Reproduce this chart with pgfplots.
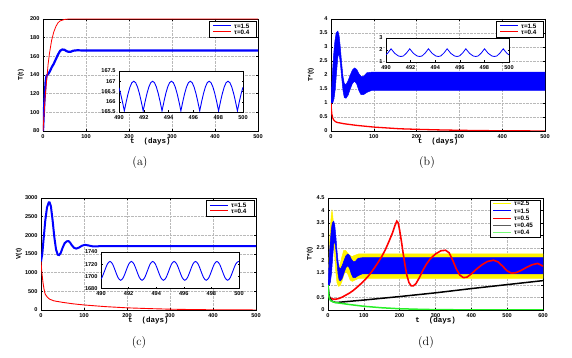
\documentclass[border=0pt]{standalone}
\usepackage{fontspec}
\usepackage{pgfplots}
\pgfplotsset{compat=1.18}
\newfontfamily\hsans{Liberation Sans}
\newfontfamily\cour{Liberation Mono}
\newcommand\tkf{\hsans\bfseries\fontsize{5.6}{6.5}\selectfont}
\newcommand\lgf{\hsans\bfseries\fontsize{6.3}{7}\selectfont}
\newcommand\ylf{\hsans\bfseries\fontsize{6.5}{7.5}\selectfont}
\newcommand\xlf{\cour\bfseries\fontsize{7.5}{8}\selectfont}
\definecolor{mgreen}{RGB}{40,240,40}
\definecolor{lgreen}{RGB}{120,250,120}
\definecolor{lbA}{RGB}{0,0,252}\definecolor{lrA}{RGB}{252,0,0}
\definecolor{lbB}{RGB}{0,0,251}\definecolor{lrB}{RGB}{251,0,0}
\definecolor{lbC}{RGB}{0,0,250}\definecolor{lrC}{RGB}{250,0,0}
\definecolor{lbD}{RGB}{0,0,249}\definecolor{lrD}{RGB}{249,0,0}
\definecolor{lyD}{RGB}{252,252,0}\definecolor{lkD}{RGB}{92,92,92}
% legend texts, placed relative to the upper right corner of the axis
\newcommand\lgtext[3]{\node[anchor=west, font=\lgf, inner sep=0pt] at ([xshift=#1, yshift=#2]axis description cs:1,1) {#3};}
\pgfplotsset{
 mainax/.style={
  scale only axis, width=215pt, height=112pt, anchor=south west,
  axis line style={line width=0.7pt},
  grid=major, grid style={densely dotted, gray!55, line width=0.4pt},
  tick align=inside, major tick length=2pt, tick style={black, line width=0.5pt},
  ticklabel style={font=\tkf},
  /pgf/number format/assume math mode=true,
  /pgf/number format/1000 sep={},
  scaled ticks=false, enlargelimits=false,
  xlabel style={font=\xlf, at={(axis description cs:0.5,0)}, anchor=center, yshift=-11pt},
  ylabel style={font=\ylf, at={(axis description cs:0,0.5)}, anchor=center, yshift=22pt},
 },
 lgseg/.style={line width=1pt, forget plot},
 lgframe/.style={draw=black, fill=white, line width=0.7pt, forget plot},
 inax/.style={
  scale only axis, anchor=south west, axis background/.style={fill=white},
  axis line style={line width=0.6pt},
  tick align=inside, major tick length=1.5pt, tick style={black, line width=0.4pt},
  ticklabel style={font=\tkf},
  /pgf/number format/assume math mode=true,
  /pgf/number format/1000 sep={},
  scaled ticks=false, enlargelimits=false,
  xmin=490, xmax=500, xtick={490,492,494,496,498,500},
 }
}
\begin{document}
\begin{tikzpicture}
\useasboundingbox (0,0) rectangle (572pt,358pt);
% ---------------- (a)
\begin{axis}[mainax, at={(43pt,227pt)}, xmin=0, xmax=500, ymin=80, ymax=200,
  xtick={0,100,...,500}, ytick={80,100,...,200}, xlabel={t~~(days)}, ylabel={T(t)}]
\addplot[blue, line width=2.2pt] coordinates {(0,80)(3,110)(6,132)(8,139)(12,141)(16,144)(20,148)(25,152)(30,157)(35,162)(40,166)(45,167.3)(50,167)(55,165.5)(60,164.8)(65,165)(70,166)(80,166.5)(90,166.3)(100,166.3)(500,166.3)};
\addplot[red, line width=0.8pt] coordinates {(0,80)(2,95)(4,110)(6,122)(8,132)(10,142)(12,152)(15,163)(20,177)(25,186)(30,192)(35,196)(40,198)(50,199.5)(60,200)(500,200)};
\addplot[lgframe] coordinates {(386.0,180.71)(495.35,180.71)(495.35,197.86)(386.0,197.86)(386.0,180.71)};
\addplot[lbA, lgseg] coordinates {(395.3,192.5)(437.2,192.5)};
\addplot[lrA, lgseg] coordinates {(395.3,186.07)(437.2,186.07)};
\lgtext{-24pt}{-7pt}{τ=1.5}
\lgtext{-24pt}{-13pt}{τ=0.4}
\end{axis}
\begin{axis}[inax, at={(119pt,246pt)}, width=124pt, height=41pt, ymin=165.5, ymax=167.5,
  ytick={165.5,166,166.5,167,167.5}]
\addplot[blue, line width=0.9pt] table {
490.000 166.68
490.126 166.40
490.278 166.00
490.430 165.55
490.582 166.00
490.734 166.40
490.886 166.72
491.038 166.93
491.190 167.00
491.342 166.93
491.494 166.72
491.646 166.40
491.798 166.00
491.950 165.55
492.102 166.00
492.254 166.40
492.406 166.72
492.558 166.93
492.710 167.00
492.862 166.93
493.014 166.72
493.166 166.40
493.318 166.00
493.470 165.55
493.622 166.00
493.774 166.40
493.926 166.72
494.078 166.93
494.230 167.00
494.382 166.93
494.534 166.72
494.686 166.40
494.838 166.00
494.990 165.55
495.142 166.00
495.294 166.40
495.446 166.72
495.598 166.93
495.750 167.00
495.902 166.93
496.054 166.72
496.206 166.40
496.358 166.00
496.510 165.55
496.662 166.00
496.814 166.40
496.966 166.72
497.118 166.93
497.270 167.00
497.422 166.93
497.574 166.72
497.726 166.40
497.878 166.00
498.030 165.55
498.182 166.00
498.334 166.40
498.486 166.72
498.638 166.93
498.790 167.00
498.942 166.93
499.094 166.72
499.246 166.40
499.398 166.00
499.550 165.55
499.702 166.00
499.854 166.40
500.000 166.71
};
\end{axis}
% ---------------- (b)
\begin{axis}[mainax, at={(331pt,227pt)}, width=214pt, xmin=0, xmax=500, ymin=0, ymax=4,
  xtick={0,100,...,500}, ytick={0,0.5,1,1.5,2,2.5,3,3.5,4}, xlabel={t~~(days)}, ylabel={T*(t)}, ylabel style={yshift=-2pt}]
\addplot[fill=blue, draw=blue, line width=0.5pt] coordinates {
(0,1.0)(3,2.0)(6,2.7)(9,3.2)(12,3.5)(16,3.57)(19,3.4)(22,2.95)(25,2.4)(28,1.95)(31,1.7)(35,1.65)(40,1.8)(45,2.0)(50,2.18)(55,2.25)(60,2.2)(65,2.05)(70,1.95)(76,1.95)(84,2.08)(95,2.1)(500,2.1)
(500,1.45)(95,1.45)(84,1.38)(76,1.3)(70,1.3)(65,1.45)(60,1.68)(55,1.78)(50,1.7)(45,1.5)(40,1.28)(35,1.17)(31,1.2)(28,1.45)(25,1.9)(22,2.4)(19,2.75)(16,2.65)(13,2.1)(10,1.5)(7,1.15)(4,1.0)(0,1.0)};
\addplot[red, line width=1.3pt] coordinates {(0,1.0)(1,0.75)(2,0.6)(4,0.47)(6,0.4)(9,0.35)(12,0.32)(16,0.3)(20,0.29)(30,0.26)(40,0.24)(60,0.2)(80,0.17)(100,0.14)(130,0.11)(160,0.08)(200,0.06)(250,0.04)(300,0.025)(350,0.015)(400,0.008)(450,0.004)(500,0.002)};
\addplot[lgframe] coordinates {(385.5,3.357)(495.33,3.357)(495.33,3.929)(385.5,3.929)(385.5,3.357)};
\addplot[lbB, lgseg] coordinates {(394.9,3.75)(436.9,3.75)};
\addplot[lrB, lgseg] coordinates {(394.9,3.536)(436.9,3.536)};
\lgtext{-24pt}{-7pt}{τ=1.5}
\lgtext{-24pt}{-13pt}{τ=0.4}
\end{axis}
\begin{axis}[inax, at={(386pt,296pt)}, width=123pt, height=24pt, ymin=1, ymax=3, ytick={1,2,3}]
\addplot[blue, line width=0.8pt] table {
490.00 1.61
490.15 1.75
490.41 2.10
490.71 1.72
491.01 1.50
491.21 1.46
491.41 1.50
491.67 1.75
491.93 2.10
492.23 1.72
492.53 1.50
492.73 1.46
492.93 1.50
493.19 1.75
493.45 2.10
493.75 1.72
494.05 1.50
494.25 1.46
494.45 1.50
494.71 1.75
494.97 2.10
495.27 1.72
495.57 1.50
495.77 1.46
495.97 1.50
496.23 1.75
496.49 2.10
496.79 1.72
497.09 1.50
497.29 1.46
497.49 1.50
497.75 1.75
498.01 2.10
498.31 1.72
498.61 1.50
498.81 1.46
499.01 1.50
499.27 1.75
499.53 2.10
499.83 1.72
500.00 1.60
};
\end{axis}
% ---------------- (c)
\begin{axis}[mainax, at={(41pt,48pt)}, xmin=0, xmax=500, ymin=0, ymax=3000,
  xtick={0,100,...,500}, ytick={0,500,...,3000}, xlabel={t~~(days)}, ylabel={V(t)}]
\addplot[blue, line width=2pt] coordinates {(0,1300)(3,1500)(6,1900)(10,2400)(14,2750)(18,2880)(20,2880)(23,2780)(27,2400)(31,1950)(35,1620)(39,1480)(42,1470)(46,1530)(50,1660)(55,1790)(60,1840)(64,1845)(68,1800)(72,1730)(77,1665)(82,1645)(88,1670)(95,1720)(102,1745)(110,1730)(120,1705)(130,1705)(140,1712)(500,1710)};
\addplot[red, line width=0.9pt] coordinates {(0,1300)(2,1000)(5,700)(8,500)(10,420)(15,340)(20,290)(30,245)(50,205)(75,165)(100,135)(150,90)(200,58)(250,38)(300,22)(350,12)(400,6)(450,3)(500,1)};
\addplot[lgframe] coordinates {(383.7,2517.9)(495.35,2517.9)(495.35,2946.4)(383.7,2946.4)(383.7,2517.9)};
\addplot[lbC, lgseg] coordinates {(393.0,2812.5)(434.9,2812.5)};
\addplot[lrC, lgseg] coordinates {(393.0,2651.8)(434.9,2651.8)};
\lgtext{-25pt}{-7pt}{τ=1.5}
\lgtext{-25pt}{-13pt}{τ=0.4}
\end{axis}
\begin{axis}[inax, at={(101pt,69.5pt)}, width=138pt, height=36.5pt, ymin=1680, ymax=1740, ytick={1680,1700,1720,1740}]
\addplot[blue, line width=0.9pt, smooth] table {
490.000 1695.5
490.069 1698
490.263 1709
490.456 1720
490.650 1724.5
490.844 1720
491.038 1709
491.231 1698
491.425 1693.5
491.619 1698
491.813 1709
492.006 1720
492.200 1724.5
492.394 1720
492.588 1709
492.781 1698
492.975 1693.5
493.169 1698
493.363 1709
493.556 1720
493.750 1724.5
493.944 1720
494.138 1709
494.331 1698
494.525 1693.5
494.719 1698
494.913 1709
495.106 1720
495.300 1724.5
495.494 1720
495.688 1709
495.881 1698
496.075 1693.5
496.269 1698
496.463 1709
496.656 1720
496.850 1724.5
497.044 1720
497.238 1709
497.431 1698
497.625 1693.5
497.819 1698
498.013 1709
498.206 1720
498.400 1724.5
498.594 1720
498.788 1709
498.981 1698
499.175 1693.5
499.369 1698
499.563 1709
499.756 1720
499.950 1724.5
500.000 1724.3
};
\end{axis}
% ---------------- (d)
\begin{axis}[mainax, at={(328pt,48pt)}, xmin=0, xmax=600, ymin=0, ymax=4.5,
  xtick={0,100,...,600}, ytick={0,0.5,1,1.5,2,2.5,3,3.5,4,4.5}, xlabel={t~~(days)}, ylabel={T*(t)},
  ylabel style={yshift=-4pt}]
\addplot[fill=yellow, draw=yellow, line width=0.5pt] coordinates {
(0,1.0)(3,2.2)(6,3.2)(9,3.8)(11,4.0)(13,3.85)(16,3.3)(19,2.6)(22,2.0)(25,1.7)(29,1.65)(34,1.85)(39,2.15)(44,2.4)(49,2.4)(54,2.3)(60,2.2)(67,2.15)(75,2.2)(85,2.25)(600,2.25)
(600,1.27)(85,1.27)(75,1.2)(68,1.15)(62,1.2)(55,1.45)(49,1.55)(44,1.4)(39,1.15)(34,0.98)(29,0.95)(25,1.1)(22,1.5)(19,2.1)(16,2.6)(13,2.5)(10,1.8)(7,1.2)(4,1.0)(0,1.0)};
\addplot[fill=blue, draw=blue, line width=0.5pt] coordinates {
(0,1.0)(3,2.0)(6,2.7)(9,3.2)(12,3.5)(16,3.57)(19,3.4)(22,2.95)(25,2.4)(28,1.95)(31,1.7)(35,1.65)(40,1.8)(45,2.0)(50,2.18)(55,2.25)(60,2.2)(65,2.05)(70,1.95)(76,1.95)(84,2.08)(95,2.1)(600,2.1)
(600,1.45)(95,1.45)(84,1.38)(76,1.3)(70,1.3)(65,1.45)(60,1.68)(55,1.78)(50,1.7)(45,1.5)(40,1.28)(35,1.17)(31,1.2)(28,1.45)(25,1.9)(22,2.4)(19,2.75)(16,2.65)(13,2.1)(10,1.5)(7,1.15)(4,1.0)(0,1.0)};
\addplot[red, line width=1.6pt] coordinates {(0,0.62)(5,0.5)(10,0.45)(20,0.43)(30,0.46)(40,0.52)(50,0.6)(60,0.68)(70,0.78)(80,0.9)(90,1.03)(100,1.17)(110,1.32)(120,1.5)(130,1.7)(140,1.92)(150,2.15)(160,2.42)(170,2.75)(180,3.1)(187,3.4)(192,3.57)(196,3.5)(200,3.2)(205,2.75)(210,2.25)(215,1.8)(220,1.4)(226,1.1)(232,0.97)(238,0.97)(245,1.05)(255,1.3)(265,1.6)(275,1.85)(285,2.05)(300,2.25)(315,2.38)(328,2.4)(338,2.3)(348,2.0)(358,1.65)(368,1.4)(378,1.3)(388,1.32)(400,1.45)(415,1.65)(430,1.82)(445,1.95)(462,2.0)(475,1.93)(488,1.75)(500,1.57)(512,1.48)(525,1.5)(540,1.6)(555,1.72)(570,1.82)(585,1.87)(595,1.8)(600,1.76)};
\addplot[black, line width=1.5pt] coordinates {(0,1.0)(3,0.6)(6,0.45)(10,0.37)(15,0.33)(20,0.31)(30,0.31)(100,0.4)(200,0.54)(300,0.69)(400,0.86)(500,1.02)(600,1.18)};
\addplot[mgreen, line width=1.5pt] coordinates {(0,1.0)(2,0.6)(4,0.45)(7,0.38)(10,0.35)(20,0.3)(40,0.26)(60,0.22)(100,0.15)(150,0.09)(200,0.05)(250,0.03)(300,0.015)(400,0.005)(600,0)};
\addplot[lgframe] coordinates {(452.1,2.933)(591.6,2.933)(591.6,4.420)(452.1,4.420)(452.1,2.933)};
\addplot[lyD, lgseg] coordinates {(460.5,4.267)(510.7,4.267)};
\addplot[lbD, lgseg] coordinates {(460.5,3.978)(510.7,3.978)};
\addplot[lrD, lgseg] coordinates {(460.5,3.688)(510.7,3.688)};
\addplot[lkD, lgseg] coordinates {(460.5,3.399)(510.7,3.399)};
\addplot[lgreen, lgseg] coordinates {(460.5,3.110)(510.7,3.110)};
\lgtext{-29pt}{-5.8pt}{τ=2.5}
\lgtext{-29pt}{-13pt}{τ=1.5}
\lgtext{-29pt}{-20.2pt}{τ=0.5}
\lgtext{-29pt}{-27.4pt}{τ=0.45}
\lgtext{-29pt}{-34.6pt}{τ=0.4}
\end{axis}
% captions
\node[font=\fontsize{12}{14}\selectfont] at (140pt,195pt) {(a)};
\node[font=\fontsize{12}{14}\selectfont] at (427pt,195pt) {(b)};
\node[font=\fontsize{12}{14}\selectfont] at (139pt,15pt) {(c)};
\node[font=\fontsize{12}{14}\selectfont] at (426pt,15pt) {(d)};
\end{tikzpicture}
\end{document}
